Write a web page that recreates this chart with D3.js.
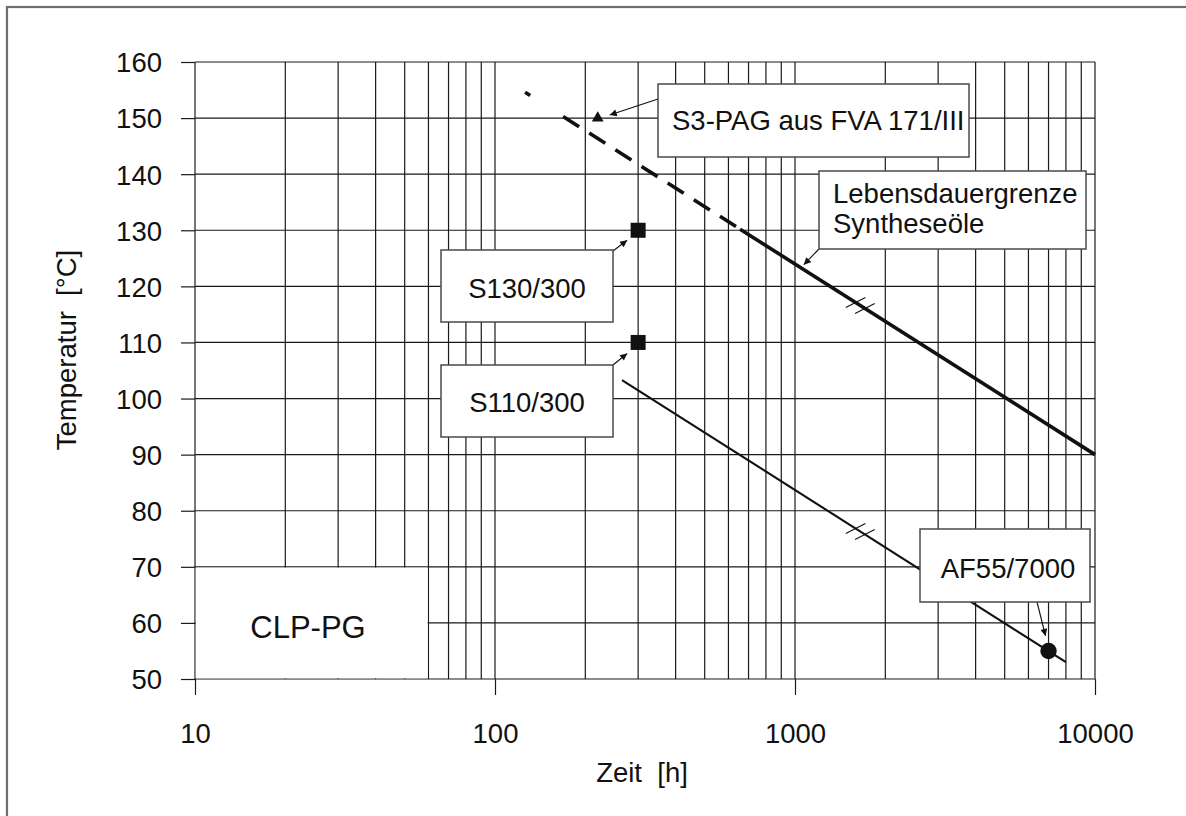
<!DOCTYPE html>
<html>
<head>
<meta charset="utf-8">
<script src="https://cdn.jsdelivr.net/npm/d3@7"></script>
<style>
  html, body { margin: 0; padding: 0; background: #fff; }
  svg { display: block; font-family: "Liberation Sans", Arial, sans-serif; }
</style>
</head>
<body>
<svg id="chart" width="1186" height="816"></svg>
<script>
// ---- data -------------------------------------------------------------
const xTickValues = [10, 100, 1000, 10000];
const yTickValues = [50, 60, 70, 80, 90, 100, 110, 120, 130, 140, 150, 160];

// Lebensdauergrenze Syntheseöle: extrapolated (dashed) and confirmed (solid) part
const limitDashedTime = [126, 656];
const limitDashedTemp = [154.6, 130.2];
const limitSolidTime  = [656, 10000];
const limitSolidTemp  = [130.2, 90];

// CLP-PG test line
const pgLineTime = [265, 8000];
const pgLineTemp = [103.3, 53.0];

// Break marks on both lines
const breakTime = 1650;

// Test points
const triangleTime = [220];
const triangleTemp = [150];
const squareTime = [300, 300];
const squareTemp = [130, 110];
const circleTime = [7000];
const circleTemp = [55];

// ---- layout -----------------------------------------------------------
const plot = { left: 195, top: 62, right: 1095, bottom: 679 };
const svg = d3.select("#chart");
const fontSize = 27.5;

const x = d3.scaleLog().domain([10, 10000]).range([plot.left, plot.right]);
const y = d3.scaleLinear().domain([50, 160]).range([plot.bottom, plot.top]);

const ink = "#111";
const gridColor = "#1a1a1a";

// outer frame
svg.append("rect")
  .attr("x", 7).attr("y", 7).attr("width", 1200).attr("height", 830)
  .attr("fill", "none").attr("stroke", "#6e6e6e").attr("stroke-width", 2.2);

// ---- grid -------------------------------------------------------------
const gridV = x.ticks(); // 10,20,...,90,100,...,10000
svg.append("g").selectAll("line").data(gridV).join("line")
  .attr("x1", d => x(d)).attr("x2", d => x(d))
  .attr("y1", plot.top).attr("y2", plot.bottom)
  .attr("stroke", gridColor).attr("stroke-width", 1.2);

svg.append("g").selectAll("line").data(yTickValues).join("line")
  .attr("x1", plot.left).attr("x2", plot.right)
  .attr("y1", d => y(d)).attr("y2", d => y(d))
  .attr("stroke", gridColor).attr("stroke-width", 1.2);

// blank field for the lubricant label
svg.append("rect")
  .attr("x", x(10) + 0.8).attr("y", y(70) + 0.8)
  .attr("width", x(60) - x(10) - 1.6).attr("height", y(50) - y(70) - 1.6)
  .attr("fill", "#fff");

// ---- axes -------------------------------------------------------------
const yAxis = d3.axisLeft(y).tickValues(yTickValues).tickSize(14).tickPadding(19)
  .tickFormat(d3.format("d"));
const gy = svg.append("g").attr("transform", `translate(${plot.left},0)`).call(yAxis);
gy.select(".domain").remove();
gy.selectAll("line").attr("stroke", gridColor).attr("stroke-width", 1.2);
gy.selectAll("text").attr("font-size", fontSize).attr("fill", ink)
  .attr("font-family", "Liberation Sans, Arial, sans-serif").attr("dy", "0.36em");

const xAxis = d3.axisBottom(x).tickValues(xTickValues).tickSize(16).tickPadding(28.5)
  .tickFormat(d3.format("d"));
const gx = svg.append("g").attr("transform", `translate(0,${plot.bottom})`).call(xAxis);
gx.select(".domain").remove();
gx.selectAll("line").attr("stroke", gridColor).attr("stroke-width", 1.2);
gx.selectAll("text").attr("font-size", fontSize).attr("fill", ink)
  .attr("font-family", "Liberation Sans, Arial, sans-serif");

// axis titles
svg.append("text")
  .attr("x", 642).attr("y", 782).attr("text-anchor", "middle")
  .attr("font-size", fontSize).attr("fill", ink)
  .attr("xml:space", "preserve").text("Zeit  [h]");

svg.append("text")
  .attr("transform", "translate(76,350) rotate(-90)")
  .attr("text-anchor", "middle").attr("font-size", fontSize).attr("fill", ink)
  .attr("xml:space", "preserve").text("Temperatur  [°C]");

// ---- lines ------------------------------------------------------------
const line = d3.line().x(d => x(d[0])).y(d => y(d[1]));
const zip = (a, b) => a.map((v, i) => [v, b[i]]);

svg.append("path")
  .attr("d", line(zip(limitDashedTime, limitDashedTemp)))
  .attr("fill", "none").attr("stroke", ink).attr("stroke-width", 3.6)
  .attr("stroke-dasharray", "6 39 19 12 19 12 19 12 19 12 19 12 19 12 19 12 19 12 400");

svg.append("path")
  .attr("d", line(zip(limitSolidTime, limitSolidTemp)))
  .attr("fill", "none").attr("stroke", ink).attr("stroke-width", 3.6);

svg.append("path")
  .attr("d", line(zip(pgLineTime, pgLineTemp)))
  .attr("fill", "none").attr("stroke", ink).attr("stroke-width", 2.1);

// break marks "//" drawn across a line at breakTime
function breakMarks(times, temps) {
  const lt = times.map(Math.log10);
  const f = (Math.log10(breakTime) - lt[0]) / (lt[1] - lt[0]);
  const temp = temps[0] + f * (temps[1] - temps[0]);
  const px = x(breakTime), py = y(temp);
  const dx = x(times[1]) - x(times[0]), dy = y(temps[1]) - y(temps[0]);
  const len = Math.hypot(dx, dy);
  const ux = dx / len, uy = dy / len;
  const a = -27 * Math.PI / 180, h = 11;
  [-5.5, 5.5].forEach(s => {
    const cx = px + s * ux, cy = py + s * uy;
    svg.append("line")
      .attr("x1", cx - h * Math.cos(a)).attr("y1", cy - h * Math.sin(a))
      .attr("x2", cx + h * Math.cos(a)).attr("y2", cy + h * Math.sin(a))
      .attr("stroke", ink).attr("stroke-width", 1.1);
  });
}
breakMarks(limitSolidTime, limitSolidTemp);
breakMarks(pgLineTime, pgLineTemp);

// ---- markers ----------------------------------------------------------
svg.append("g").selectAll("path").data(zip(triangleTime, triangleTemp)).join("path")
  .attr("transform", d => `translate(${x(d[0])},${y(d[1])})`)
  .attr("d", d3.symbol(d3.symbolTriangle, 60)())
  .attr("fill", ink);

svg.append("g").selectAll("rect").data(zip(squareTime, squareTemp)).join("rect")
  .attr("x", d => x(d[0]) - 7.5).attr("y", d => y(d[1]) - 7.5)
  .attr("width", 15).attr("height", 15).attr("fill", ink);

svg.append("g").selectAll("circle").data(zip(circleTime, circleTemp)).join("circle")
  .attr("cx", d => x(d[0])).attr("cy", d => y(d[1])).attr("r", 8.2)
  .attr("fill", ink);

// ---- annotations ------------------------------------------------------
const defs = svg.append("defs");
defs.append("marker")
  .attr("id", "head").attr("viewBox", "0 0 10 10")
  .attr("refX", 10).attr("refY", 5)
  .attr("markerWidth", 8).attr("markerHeight", 7)
  .attr("markerUnits", "userSpaceOnUse")
  .attr("orient", "auto")
  .append("path").attr("d", "M0,0 L10,5 L0,10 Z").attr("fill", ink);

function box(x0, y0, x1, y1) {
  svg.append("rect")
    .attr("x", x0).attr("y", y0).attr("width", x1 - x0).attr("height", y1 - y0)
    .attr("fill", "#fff").attr("stroke", "#4a4a4a").attr("stroke-width", 1.5);
}
function arrow(x0, y0, x1, y1) {
  svg.append("line")
    .attr("x1", x0).attr("y1", y0).attr("x2", x1).attr("y2", y1)
    .attr("stroke", ink).attr("stroke-width", 1.1)
    .attr("marker-end", "url(#head)");
}
function label(tx, ty, str, anchor, size) {
  svg.append("text")
    .attr("x", tx).attr("y", ty).attr("text-anchor", anchor || "middle")
    .attr("font-size", size || fontSize).attr("fill", ink).text(str);
}

// S3-PAG
const tri = [x(triangleTime[0]), y(triangleTemp[0])];
arrow(658, 99, tri[0] + 12, tri[1] - 3);
box(658, 84, 969, 157);
label(672, 130, "S3-PAG aus FVA 171/III", "start");

// Lebensdauergrenze
const tLeb = 1070;
const tempLeb = 90 + (130.2 - 90) * (Math.log10(10000) - Math.log10(tLeb)) / (Math.log10(10000) - Math.log10(656));
arrow(819, 249, x(tLeb), y(tempLeb) - 5);
box(819, 171, 1086, 249);
label(833, 203, "Lebensdauergrenze", "start");
label(833, 233, "Syntheseöle", "start");

// S130/300
const sq1 = [x(squareTime[0]), y(squareTemp[0])];
arrow(613, 251, sq1[0] - 11, sq1[1] + 10);
box(441, 250, 613, 322);
label(527, 298, "S130/300");

// S110/300
const sq2 = [x(squareTime[1]), y(squareTemp[1])];
arrow(613, 365, sq2[0] - 11, sq2[1] + 11);
box(441, 365, 613, 437);
label(527, 412, "S110/300");

// AF55/7000
const cir = [x(circleTime[0]), y(circleTemp[0])];
arrow(1037, 602, cir[0] - 3, cir[1] - 15);
box(920, 529, 1090, 602);
label(1008, 578, "AF55/7000");

// lubricant type
label(308, 638, "CLP-PG", "middle", 31);
</script>
</body>
</html>
